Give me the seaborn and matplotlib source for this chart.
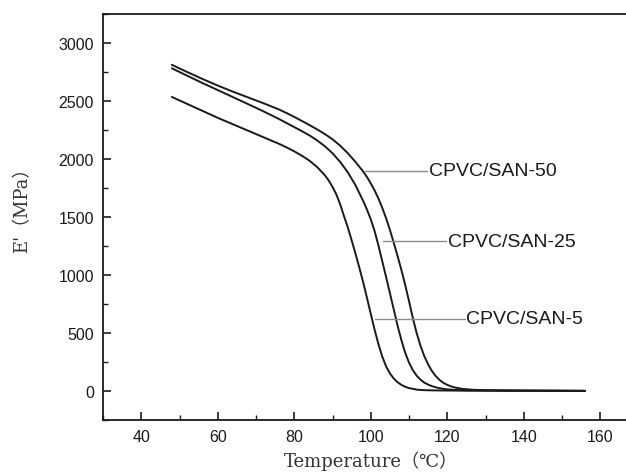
import matplotlib
matplotlib.use("Agg")
import matplotlib.pyplot as plt
import seaborn as sns
import pandas as pd
from matplotlib.ticker import MultipleLocator

# ---- data ----
T5 = [48, 52, 56, 60, 64, 68, 72, 76, 78, 80, 82, 84, 86, 88, 89, 90, 91, 92, 93, 94, 95, 96, 97, 98, 99, 100,
      101, 102, 103, 104, 105, 106, 107, 108, 109, 110, 112, 114, 117, 120, 125, 130, 140, 150, 156]
E5 = [2535, 2475, 2415, 2355, 2299, 2243, 2187, 2131, 2100, 2066, 2028, 1985, 1930, 1860, 1815, 1760, 1695, 1610,
      1508, 1410, 1300, 1185, 1065, 940, 805, 665, 530, 405, 298, 213, 152, 108, 76, 53, 36, 25, 12, 7, 5, 4, 3, 3,
      2, 2, 1]

T25 = [48, 52, 56, 60, 64, 68, 72, 76, 78, 80, 82, 84, 86, 88, 90, 92, 94, 96, 98, 99, 100, 101, 102, 103, 104,
       105, 106, 107, 108, 109, 110, 111, 112, 113, 114, 115, 116, 117, 118, 120, 122, 125, 130, 140, 150, 156]
E25 = [2782, 2718, 2655, 2594, 2533, 2472, 2410, 2345, 2310, 2275, 2240, 2203, 2160, 2110, 2050, 1975, 1885, 1775,
       1640, 1565, 1480, 1380, 1255, 1120, 985, 845, 705, 565, 440, 330, 245, 180, 132, 98, 72, 55, 42, 32, 24, 14,
       9, 6, 4, 3, 2, 1]

T50 = [48, 52, 56, 60, 64, 68, 72, 76, 78, 80, 82, 84, 86, 88, 90, 92, 94, 96, 98, 99, 100, 101, 102, 103, 104,
       105, 106, 107, 108, 109, 110, 111, 112, 113, 114, 115, 116, 117, 118, 119, 120, 121, 122, 124, 127, 130,
       135, 140, 150, 156]
E50 = [2812, 2750, 2690, 2633, 2580, 2530, 2480, 2427, 2396, 2363, 2328, 2292, 2255, 2215, 2170, 2115, 2050, 1975,
       1893, 1845, 1790, 1730, 1660, 1580, 1490, 1390, 1280, 1165, 1045, 915, 775, 630, 500, 390, 300, 230, 172,
       128, 95, 70, 53, 40, 30, 18, 10, 7, 5, 4, 2, 1]

series_names = ["CPVC/SAN-5", "CPVC/SAN-25", "CPVC/SAN-50"]

# label callouts: (text, y level, line start x, line end x)
label_text = ["CPVC/SAN-50", "CPVC/SAN-25", "CPVC/SAN-5"]
label_y = [1897, 1293, 621]
label_x0 = [98.6, 103.3, 101.0]
label_x1 = [114.8, 119.8, 124.7]

x_label = "Temperature\uff08\u2103\uff09"
y_label = "E'\uff08MPa\uff09"

df = pd.concat([
    pd.DataFrame({"T": T5, "E": E5, "s": series_names[0]}),
    pd.DataFrame({"T": T25, "E": E25, "s": series_names[1]}),
    pd.DataFrame({"T": T50, "E": E50, "s": series_names[2]}),
])

sns.set_style("ticks")
plt.rcParams["font.family"] = ["Liberation Sans", "DejaVu Sans"]

fig = plt.figure(figsize=(6.26, 4.77), dpi=100)
ax = fig.add_axes([103 / 626, 56 / 477, 535.5 / 626, 406 / 477])

sns.lineplot(data=df, x="T", y="E", hue="s", units="s", estimator=None,
             palette=["#1a1a1a"] * 3, linewidth=1.4, legend=False, ax=ax, sort=True)

for t, y, x0, x1 in zip(label_text, label_y, label_x0, label_x1):
    ax.plot([x0, x1], [y, y], color="#8c8c8c", linewidth=1.0)
    ax.text(x1 + 0.3, y, t, fontsize=14, va="center", ha="left", color="#1a1a1a")

ax.set_xlim(30, 170)
ax.set_ylim(-250, 3250)
ax.xaxis.set_major_locator(MultipleLocator(20))
ax.xaxis.set_minor_locator(MultipleLocator(10))
ax.yaxis.set_major_locator(MultipleLocator(500))
ax.yaxis.set_minor_locator(MultipleLocator(250))
ax.tick_params(which="major", direction="in", length=6, width=1.2, labelsize=11.5,
               colors="#1a1a1a", pad=6.5)
ax.tick_params(which="minor", direction="in", length=3.5, width=1.0, colors="#1a1a1a")
for sp in ax.spines.values():
    sp.set_linewidth(1.3)
    sp.set_color("#1a1a1a")

ax.set_xlabel(x_label, fontsize=13, family=["DejaVu Serif", "Noto Sans CJK SC"],
              color="#333333", labelpad=5)
ax.set_ylabel(y_label, fontsize=13, family=["DejaVu Serif", "Noto Sans CJK SC"],
              color="#333333")
ax.yaxis.set_label_coords(-0.133, 0.53)

fig.savefig("out.png", dpi=100, facecolor="white")
